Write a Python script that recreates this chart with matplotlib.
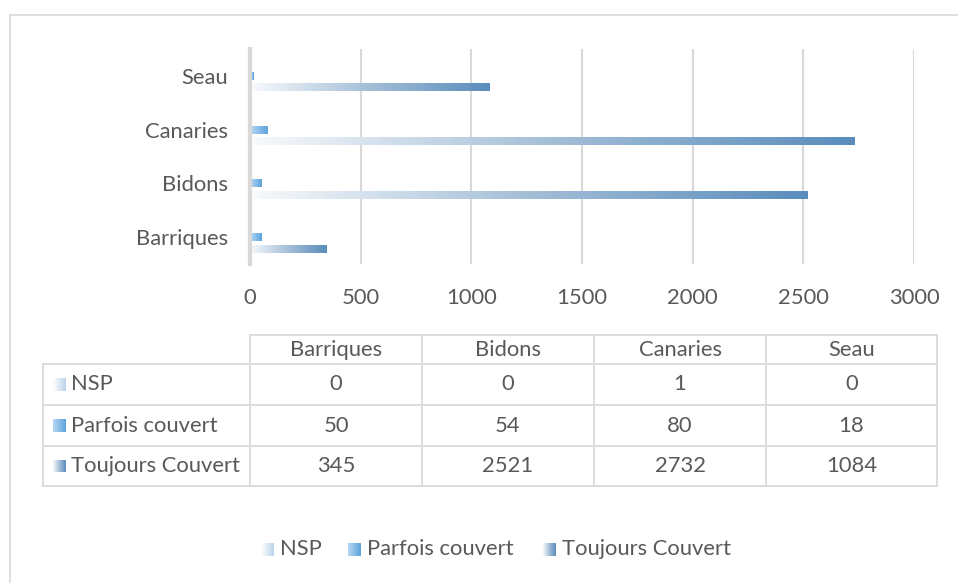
import matplotlib.pyplot as plt
import numpy as np
from matplotlib.colors import LinearSegmentedColormap
from matplotlib.lines import Line2D

plt.rcParams['font.family'] = ['Lato', 'DejaVu Sans']

# data
categories = ['Barriques', 'Bidons', 'Canaries', 'Seau']
series = ['NSP', 'Parfois couvert', 'Toujours Couvert']
nsp = [0, 0, 1, 0]
parfois = [50, 54, 80, 18]
toujours = [345, 2521, 2732, 1084]
xticks = [0, 500, 1000, 1500, 2000, 2500, 3000]

values = [nsp, parfois, toujours]
cmaps = [LinearSegmentedColormap.from_list('nsp', ['#FFFFFF', '#BCD3EA']),
         LinearSegmentedColormap.from_list('parf', ['#B8D8F3', '#5BA3DD']),
         LinearSegmentedColormap.from_list('touj', ['#F8FAFC', '#A3BED7', '#5A8DBC'])]
txt = '#595959'
grid = '#D9D9D9'
fs = 15.8
grad = np.linspace(0, 1, 256).reshape(1, -1)

W, H = 958, 583
fig = plt.figure(figsize=(9.58, 5.83), dpi=100)

def fx(px):
    return px / W

def fy(py):
    return 1 - py / H

ax = fig.add_axes([fx(250), fy(264), fx(914) - fx(250), fy(49) - fy(264)])

# bars: NSP on top of each group, Toujours at bottom
offsets = [0.215, 0.0, -0.215]
h = 0.15
y = np.arange(len(categories))
for vals, off, cm in zip(values, offsets, cmaps):
    bars = ax.barh(y + off, vals, height=h, color='none', edgecolor='none')
    for b in bars:
        x0, y0 = b.get_x(), b.get_y()
        w, hh = b.get_width(), b.get_height()
        if w <= 0:
            continue
        im = ax.imshow(grad, cmap=cm, aspect='auto',
                       extent=[x0, x0 + w, y0, y0 + hh], zorder=3)
        im.set_clip_path(b)

ax.set_xlim(0, 3000)
ax.set_ylim(-0.5, len(categories) - 0.5)
ax.set_xticks(xticks)
ax.set_yticks(y)
ax.set_yticklabels(categories)
ax.tick_params(length=0, labelsize=fs, colors=txt)
ax.tick_params(axis='x', pad=17)
ax.tick_params(axis='y', pad=16)
ax.xaxis.grid(True, color=grid, linewidth=1.5)
ax.set_axisbelow(True)
for s in ['top', 'right', 'bottom']:
    ax.spines[s].set_visible(False)
ax.spines['left'].set_color(grid)
ax.spines['left'].set_linewidth(3)
ax.spines['left'].set_zorder(4)

# outer chart border (top and left)
fig.add_artist(Line2D([fx(9.5), 1], [fy(15), fy(15)], color=grid, lw=1.2))
fig.add_artist(Line2D([fx(9.5), fx(9.5)], [fy(15), 0], color=grid, lw=1.2))

# data table
cols = [43, 250, 422, 594, 766, 937]
rows = [335, 364, 405, 446, 486]
tcol = '#DCDCDC'
tlw = 1.4
fig.add_artist(Line2D([fx(250), fx(937)], [fy(335), fy(335)], color=tcol, lw=tlw))
for r in rows[1:]:
    fig.add_artist(Line2D([fx(43), fx(937)], [fy(r), fy(r)], color=tcol, lw=tlw))
fig.add_artist(Line2D([fx(43), fx(43)], [fy(364), fy(486)], color=tcol, lw=tlw))
for c in cols[1:]:
    fig.add_artist(Line2D([fx(c), fx(c)], [fy(335), fy(486)], color=tcol, lw=tlw))

for j, cat in enumerate(categories):
    cx = (cols[j + 1] + cols[j + 2]) / 2
    fig.text(fx(cx), fy((rows[0] + rows[1]) / 2), cat, ha='center', va='center',
             fontsize=fs, color=txt)

def swatch(px, py, cm, size=13):
    ext = [fx(px), fx(px + size), fy(py + size / 2), fy(py - size / 2)]
    iax = fig.add_axes([ext[0], ext[2], ext[1] - ext[0], ext[3] - ext[2]])
    iax.imshow(grad, cmap=cm, aspect='auto')
    iax.set_axis_off()

for i, (name, vals, cm) in enumerate(zip(series, values, cmaps)):
    cy = (rows[i + 1] + rows[i + 2]) / 2
    swatch(53, cy, cm)
    fig.text(fx(71), fy(cy), name, ha='left', va='center', fontsize=fs, color=txt)
    for j, v in enumerate(vals):
        cx = (cols[j + 1] + cols[j + 2]) / 2
        fig.text(fx(cx), fy(cy), str(v), ha='center', va='center', fontsize=fs, color=txt)

# legend
leg_x = [261, 348, 543]
for lx, name, cm in zip(leg_x, series, cmaps):
    swatch(lx, 549, cm)
    fig.text(fx(lx + 19), fy(549), name, ha='left', va='center', fontsize=fs, color=txt)

plt.savefig('out.png', dpi=100)
